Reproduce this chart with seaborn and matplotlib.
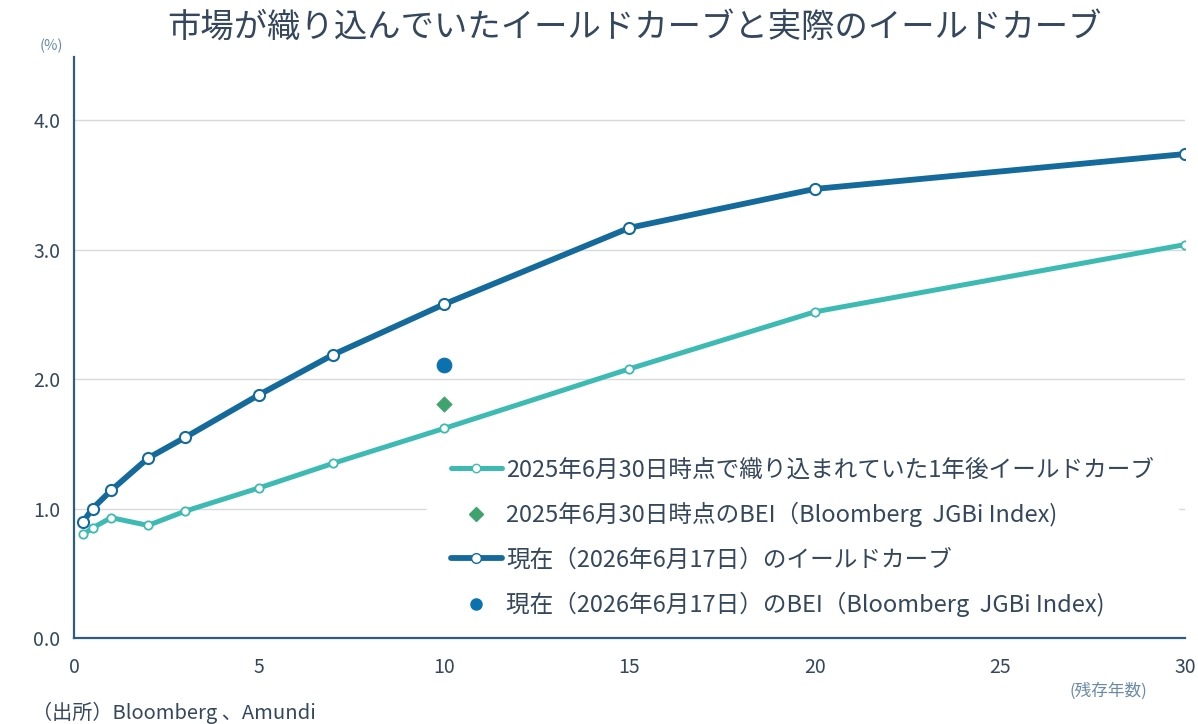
import matplotlib
matplotlib.use("Agg")
import matplotlib.pyplot as plt
import seaborn as sns
import pandas as pd
from matplotlib.lines import Line2D

# Remaining maturity (years)
maturity = [0.25, 0.5, 1, 2, 3, 5, 7, 10, 15, 20, 30]
# Yield curve priced in on 2025-06-30 for one year ahead (%)
implied_curve = [0.80, 0.85, 0.93, 0.87, 0.98, 1.16, 1.35, 1.62, 2.08, 2.52, 3.04]
# Actual yield curve as of 2026-06-17 (%)
actual_curve = [0.90, 1.00, 1.14, 1.39, 1.55, 1.88, 2.19, 2.58, 3.17, 3.47, 3.74]
# Break-even inflation (10y)
bei_x = [10]
bei_2025 = [1.81]
bei_2026 = [2.11]

labels = [
    "2025年6月30日時点で織り込まれていた1年後イールドカーブ",
    "2025年6月30日時点のBEI（Bloomberg  JGBi Index)",
    "現在（2026年6月17日）のイールドカーブ",
    "現在（2026年6月17日）のBEI（Bloomberg  JGBi Index)",
]
title = "市場が織り込んでいたイールドカーブと実際のイールドカーブ"

sns.set_theme(style="white")
plt.rcParams["font.family"] = ["Noto Sans CJK JP", "DejaVu Sans"]

TEAL = "#3dbab2"
NAVY = "#156a9c"
GREEN = "#3ea36c"
BLUE = "#0b72b0"
AXIS = "#2f5d7c"
TEXT = "#34475c"

df = pd.DataFrame({"maturity": maturity, "implied": implied_curve, "actual": actual_curve})
bei = pd.DataFrame({"x": bei_x, "y2025": bei_2025, "y2026": bei_2026})

fig = plt.figure(figsize=(11.98, 7.24), dpi=100)
ax = fig.add_axes([0.0618, 0.1188, 0.9273, 0.8025])

sns.lineplot(data=df, x="maturity", y="implied", ax=ax, color=TEAL, lw=3.6,
             marker="o", markersize=6, markerfacecolor="white",
             markeredgecolor=TEAL, markeredgewidth=1.3, zorder=3)
sns.lineplot(data=df, x="maturity", y="actual", ax=ax, color=NAVY, lw=4.2,
             marker="o", markersize=8, markerfacecolor="white",
             markeredgecolor=NAVY, markeredgewidth=1.5, zorder=4)
sns.scatterplot(data=bei, x="x", y="y2025", ax=ax, marker="D", s=60,
                color=GREEN, edgecolor=GREEN, zorder=5)
sns.scatterplot(data=bei, x="x", y="y2026", ax=ax, marker="o", s=110,
                color=BLUE, edgecolor=BLUE, zorder=5)

ax.set_xlim(0, 30)
ax.set_ylim(0, 4.49)
ax.set_xticks([0, 5, 10, 15, 20, 25, 30])
ax.set_yticks([0, 1, 2, 3, 4])
ax.set_yticklabels([f"{v:.1f}" for v in [0, 1, 2, 3, 4]])
ax.set_xlabel("")
ax.set_ylabel("")

ax.yaxis.grid(True, color="#d9d9d9", lw=1.0)
ax.set_axisbelow(True)
for s in ["top", "right"]:
    ax.spines[s].set_visible(False)
for s in ["left", "bottom"]:
    ax.spines[s].set_color(AXIS)
    ax.spines[s].set_linewidth(1.6)
ax.tick_params(axis="both", colors=AXIS, labelcolor=TEXT, labelsize=14,
               length=7, width=1.6, direction="out")
ax.tick_params(axis="x", pad=7)
ax.tick_params(axis="y", pad=3)

handles = [
    Line2D([], [], color=TEAL, lw=3.6, marker="o", markersize=6,
           markerfacecolor="white", markeredgecolor=TEAL),
    Line2D([], [], color=GREEN, lw=0, marker="D", markersize=7),
    Line2D([], [], color=NAVY, lw=4.2, marker="o", markersize=7,
           markerfacecolor="white", markeredgecolor=NAVY),
    Line2D([], [], color=BLUE, lw=0, marker="o", markersize=8),
]
leg = ax.legend(handles, labels, loc="upper left", bbox_to_anchor=(0.307, 0.37),
                frameon=True, facecolor="white", edgecolor="white", framealpha=1,
                fontsize=17, handlelength=2.2, handletextpad=0.15,
                labelspacing=0.88, borderpad=1.0)
for t in leg.get_texts():
    t.set_color(TEXT)
leg.set_zorder(2)

fig.text(0.53, 0.962, title, ha="center", va="center", fontsize=24, color=TEXT)
fig.text(0.043, 0.936, "(%)", ha="center", va="center", fontsize=10.5, color="#6a8aa8")
fig.text(0.925, 0.046, "(残存年数)", ha="center", va="center", fontsize=12, color="#6a8aa8")
fig.text(0.027, 0.016, "（出所）Bloomberg 、Amundi", ha="left", va="center",
         fontsize=14.5, color=TEXT)

fig.savefig("out.png", dpi=100, facecolor="white")
